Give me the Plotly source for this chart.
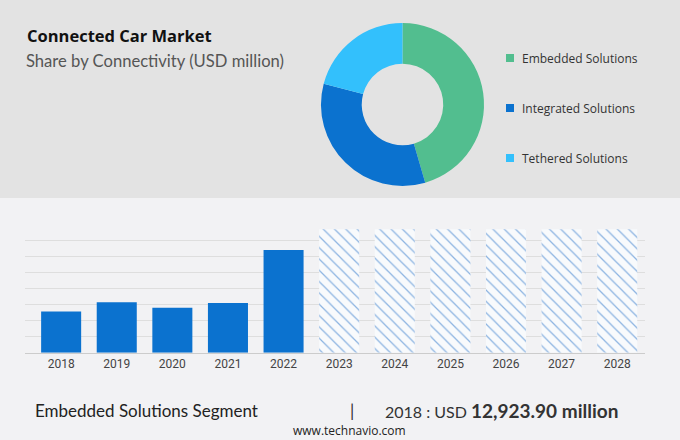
import plotly.graph_objects as go

# donut data (share by connectivity)
segments = ['Embedded Solutions', 'Integrated Solutions', 'Tethered Solutions']
shares = [45.5, 33.6, 20.9]
seg_colors = ['#52be8f', '#0b72cf', '#33c0fc']

# bar data (Embedded Solutions segment, USD million)
years = ['2018', '2019', '2020', '2021', '2022', '2023', '2024', '2025', '2026', '2027', '2028']
hist_years = years[:5]
hist_values = [12923.9, 15790, 14100, 15570, 32170]
fc_years = years[5:]
fc_values = [38660, 38660, 38660, 38660, 38660, 38660]

W, H = 680, 440

fig = go.Figure()

fig.add_trace(go.Pie(
    labels=segments, values=shares, hole=0.5, sort=False, direction='clockwise',
    rotation=0, marker=dict(colors=seg_colors, line=dict(width=0)),
    textinfo='none', hoverinfo='label+percent', showlegend=False,
    domain=dict(x=[321 / W, 484 / W], y=[(H - 186) / H, (H - 23) / H])
))

fig.add_trace(go.Bar(
    x=hist_years, y=hist_values, marker=dict(color='#0b72cf', line=dict(width=0)),
    showlegend=False, hoverinfo='x+y'
))
fig.add_trace(go.Bar(
    x=fc_years, y=fc_values,
    marker=dict(color='#f8fafc', line=dict(width=0),
                pattern=dict(shape='\\', fgcolor='#1f6ec6', bgcolor='#f8fafc',
                             size=8, solidity=0.16)),
    showlegend=False, hoverinfo='x'
))

shapes = [
    dict(type='rect', xref='paper', yref='paper', x0=0, x1=1, y0=(H - 198) / H, y1=1,
         fillcolor='#e3e3e3', line=dict(width=0), layer='below'),
    dict(type='rect', xref='paper', yref='paper', x0=0, x1=1, y0=0, y1=(H - 198) / H,
         fillcolor='#f2f2f4', line=dict(width=0), layer='below'),
]


def label(text, x, y, anchor, family, size, color):
    return dict(text=text, x=x / W, y=(H - y) / H, xref='paper', yref='paper',
                xanchor=anchor, yanchor='middle', showarrow=False,
                font=dict(family=family, size=size, color=color))


annotations = [
    label('<b>Connected Car Market</b>', 25, 35, 'left', 'Open Sans', 16.5, '#111'),
    label('Share by Connectivity (USD million)', 24, 61, 'left', 'Lato', 16.6, '#555'),
    label('Embedded Solutions Segment', 33, 410, 'left', 'Lato', 17, '#222'),
    label('|', 352, 410, 'center', 'Lato', 17, '#333'),
    label('2018 : USD <span style="font-size:19px"><b>12,923.90 million</b></span>',
          383, 410, 'left', 'Lato', 16, '#333'),
    label('www.technavio.com', 350, 430, 'center', 'Open Sans', 12, '#222'),
]

# legend drawn by hand to get the wide spacing
for i, (name, col) in enumerate(zip(segments, seg_colors)):
    yc = 58 + i * 50
    shapes.append(dict(type='rect', xref='paper', yref='paper',
                       x0=506 / W, x1=514 / W, y0=(H - yc - 4) / H, y1=(H - yc + 4) / H,
                       fillcolor=col, line=dict(width=0)))
    annotations.append(label(name, 520, yc, 'left', 'Open Sans', 12, '#333'))

fig.update_layout(
    width=W, height=H, margin=dict(l=0, r=0, t=0, b=0),
    paper_bgcolor='#f2f2f4', plot_bgcolor='rgba(0,0,0,0)',
    bargap=0.28, barmode='overlay',
    shapes=shapes, annotations=annotations,
    xaxis=dict(domain=[25 / W, 645 / W], type='category', categoryorder='array',
               categoryarray=years, range=[-0.65, 10.5], showgrid=False,
               showline=True, linecolor='#cccccc', linewidth=1, ticks='',
               tickfont=dict(family='Roboto', size=12, color='#444')),
    yaxis=dict(domain=[(H - 352.7) / H, (H - 225) / H], range=[0, 40000], dtick=5000,
               showgrid=True, gridcolor='#dedede', gridwidth=1, zeroline=False,
               showticklabels=False, showline=False),
)

fig.write_html("out.html", config={'displayModeBar': False},
               post_script="document.body.style.margin='0';")
